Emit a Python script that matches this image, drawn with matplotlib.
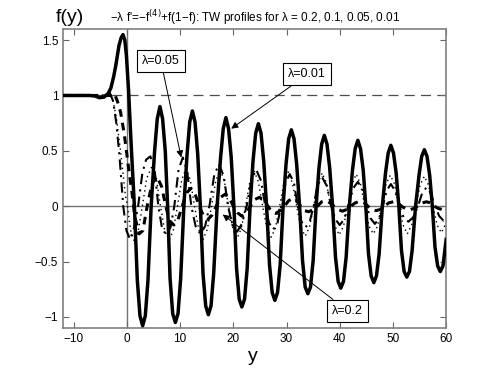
import numpy as np
import matplotlib.pyplot as plt

plt.rcParams['font.family'] = ['Liberation Sans', 'DejaVu Sans']

# travelling wave profiles, (y, f) pairs
# lambda = 0.01, solid
prof_001 = [(-12, 1), (-7, 1), (-6, 0.995), (-5.2, 0.98), (-4.3, 0.985), (-3.5, 1.02),
            (-3.0, 1.07), (-2.5, 1.17), (-2.1, 1.27), (-1.5, 1.45), (-1.1, 1.52),
            (-0.75, 1.55), (-0.4, 1.5), (-0.1, 1.36), (0.3, 1.05), (0.8, 0.55),
            (1.4, 0), (1.95, -0.67), (2.45, -0.99), (2.95, -1.08), (3.45, -0.99),
            (3.95, -0.67), (4.55, 0),
            (5.2, 0.5), (5.7, 0.79), (6.2, 0.9), (6.7, 0.79), (7.2, 0.5), (7.65, 0),
            (8.1, -0.65), (8.6, -0.97), (9.1, -1.05), (9.6, -0.97), (10.1, -0.65), (10.7, 0),
            (11.3, 0.47), (11.8, 0.76), (12.3, 0.86), (12.8, 0.76), (13.3, 0.47), (13.8, 0),
            (14.3, -0.61), (14.8, -0.9), (15.3, -0.98), (15.8, -0.9), (16.3, -0.61), (16.95, 0),
            (17.6, 0.44), (18.1, 0.7), (18.6, 0.8), (19.1, 0.7), (19.6, 0.44), (20.1, 0),
            (20.6, -0.56), (21.1, -0.84), (21.6, -0.91), (22.1, -0.84), (22.6, -0.56), (23.15, 0),
            (23.7, 0.41), (24.2, 0.66), (24.7, 0.745), (25.2, 0.66), (25.7, 0.41), (26.25, 0),
            (26.8, -0.53), (27.3, -0.78), (27.8, -0.85), (28.3, -0.78), (28.8, -0.53), (29.35, 0),
            (29.9, 0.38), (30.4, 0.61), (30.9, 0.69), (31.4, 0.61), (31.9, 0.38), (32.45, 0),
            (33.0, -0.49), (33.5, -0.73), (34.0, -0.79), (34.5, -0.73), (35.0, -0.49), (35.55, 0),
            (36.1, 0.35), (36.6, 0.56), (37.1, 0.64), (37.6, 0.56), (38.1, 0.35), (38.65, 0),
            (39.2, -0.46), (39.7, -0.68), (40.2, -0.74), (40.7, -0.68), (41.2, -0.46), (41.8, 0),
            (42.4, 0.33), (42.9, 0.52), (43.4, 0.595), (43.9, 0.52), (44.4, 0.33), (44.9, 0),
            (45.4, -0.43), (45.9, -0.63), (46.4, -0.69), (46.9, -0.63), (47.4, -0.43), (48.0, 0),
            (48.6, 0.3), (49.1, 0.48), (49.6, 0.55), (50.1, 0.48), (50.6, 0.3), (51.1, 0),
            (51.6, -0.4), (52.1, -0.59), (52.6, -0.64), (53.1, -0.59), (53.6, -0.4), (54.25, 0),
            (54.9, 0.28), (55.4, 0.45), (55.9, 0.51), (56.4, 0.45), (56.9, 0.28), (57.4, 0),
            (57.9, -0.37), (58.4, -0.54), (58.9, -0.59), (59.4, -0.54), (60, -0.3)]

# lambda = 0.05, dash-dot
prof_005 = [(-12, 1), (-5, 1), (-4, 1.0), (-3.2, 1.02), (-2.6, 0.95), (-2.0, 0.75),
            (-1.4, 0.45), (-0.7, 0), (-0.1, -0.22), (0.6, -0.3), (1.3, -0.2), (2.1, 0),
            (2.9, 0.3), (3.6, 0.42), (4.4, 0.45), (5.2, 0.33), (5.9, 0), (6.6, -0.2),
            (7.4, -0.26), (8.2, -0.19), (8.9, 0), (9.7, 0.33), (10.5, 0.44), (11.3, 0.32),
            (12.1, 0), (12.9, -0.18), (13.8, -0.25), (14.7, -0.18), (15.5, 0), (16.4, 0.28),
            (17.3, 0.38), (18.2, 0.27), (19.0, 0), (19.8, -0.17), (20.7, -0.23), (21.6, -0.16),
            (22.5, 0), (23.4, 0.24), (24.3, 0.33), (25.2, 0.23), (26.0, 0), (26.7, -0.15),
            (27.5, -0.21), (28.3, -0.15), (29.0, 0), (29.8, 0.21), (30.6, 0.29), (31.4, 0.21),
            (32.1, 0), (32.8, -0.14), (33.6, -0.19), (34.4, -0.13), (35.1, 0), (35.8, 0.19),
            (36.7, 0.26), (37.6, 0.18), (38.4, 0), (39.2, -0.12), (40.0, -0.17), (40.8, -0.12),
            (41.6, 0), (42.5, 0.16), (43.4, 0.22), (44.3, 0.15), (45.0, 0), (45.8, -0.11),
            (46.6, -0.16), (47.4, -0.11), (48.1, 0), (48.8, 0.14), (49.6, 0.2), (50.4, 0.14),
            (51.2, 0), (52.0, -0.1), (52.9, -0.14), (53.8, -0.1), (54.7, 0), (55.5, 0.12),
            (56.3, 0.17), (57.1, 0.12), (57.9, 0), (58.7, -0.09), (59.5, -0.13), (60, -0.11)]

# lambda = 0.1, dotted
prof_01 = [(-12, 1), (-4, 1), (-3.3, 1.01), (-2.7, 0.97), (-2.0, 0.8), (-1.2, 0.5),
           (-0.3, 0.1), (0.1, 0), (0.7, -0.22), (1.4, -0.32), (2.1, -0.23), (2.9, 0),
           (3.7, 0.25), (4.6, 0.35), (5.5, 0.25), (6.3, 0), (7.1, -0.22), (7.9, -0.31),
           (8.7, -0.22), (9.5, 0), (10.3, 0.24), (11.1, 0.34), (11.9, 0.24), (12.7, 0),
           (13.5, -0.21), (14.3, -0.3), (15.1, -0.21), (15.9, 0), (16.7, 0.23), (17.5, 0.33),
           (18.3, 0.23), (19.1, 0), (19.9, -0.2), (20.7, -0.29), (21.5, -0.2), (22.3, 0),
           (23.1, 0.22), (23.9, 0.32), (24.7, 0.22), (25.5, 0), (26.3, -0.2), (27.1, -0.28),
           (27.9, -0.2), (28.7, 0), (29.5, 0.21), (30.3, 0.31), (31.1, 0.21), (31.9, 0),
           (32.7, -0.19), (33.5, -0.27), (34.3, -0.19), (35.1, 0), (35.9, 0.21), (36.7, 0.3),
           (37.5, 0.21), (38.3, 0), (39.1, -0.18), (39.9, -0.26), (40.7, -0.18), (41.5, 0),
           (42.3, 0.2), (43.1, 0.29), (43.9, 0.2), (44.7, 0), (45.5, -0.18), (46.3, -0.25),
           (47.1, -0.18), (47.9, 0), (48.7, 0.2), (49.5, 0.28), (50.3, 0.2), (51.1, 0),
           (51.9, -0.17), (52.7, -0.25), (53.5, -0.17), (54.3, 0), (55.1, 0.19), (55.9, 0.27),
           (56.7, 0.19), (57.5, 0), (58.3, -0.17), (59.1, -0.24), (60, -0.15)]

# lambda = 0.2, thick dashed
prof_02 = [(-12, 1), (-3, 1), (-2.4, 1.02), (-1.8, 0.95), (-1.2, 0.85), (-0.5, 0.65),
           (0.3, 0.35), (1.0, 0.1), (1.5, -0.1), (2.3, -0.25), (3.0, -0.22), (3.8, 0),
           (4.7, 0.2), (5.6, 0.27), (6.5, 0.18), (7.3, 0), (8.0, -0.13), (8.8, -0.17),
           (9.6, -0.12), (10.4, 0), (11.2, 0.12), (12.0, 0.16), (12.8, 0.11), (13.6, 0),
           (14.4, -0.09), (15.2, -0.12), (16.0, -0.08), (16.8, 0), (17.6, 0.08), (18.5, 0.11),
           (19.3, 0.07), (20.0, 0), (20.8, -0.06), (21.6, -0.09), (22.4, -0.06), (23.2, 0),
           (24.0, 0.06), (24.9, 0.08), (25.8, 0.05), (26.5, 0), (27.2, -0.05), (28.0, -0.065),
           (28.8, -0.04), (29.6, 0), (30.4, 0.05), (31.2, 0.07), (32.0, 0.04), (32.7, 0),
           (33.4, -0.04), (34.2, -0.05), (35.0, -0.03), (35.8, 0), (36.6, 0.04), (37.4, 0.05),
           (38.2, 0.03), (38.9, 0), (39.7, -0.03), (40.5, -0.045), (41.3, -0.03), (42.1, 0),
           (42.9, 0.03), (43.8, 0.045), (44.6, 0.03), (45.3, 0), (46.0, -0.03), (46.8, -0.04),
           (47.6, -0.03), (48.4, 0), (49.2, 0.03), (50.1, 0.04), (50.9, 0.03), (51.6, 0),
           (52.3, -0.02), (53.1, -0.035), (53.9, -0.02), (54.7, 0), (55.5, 0.03), (56.3, 0.04),
           (57.1, 0.03), (57.8, 0), (58.5, -0.02), (59.3, -0.03), (60, -0.02)]

xticks = [-10, 0, 10, 20, 30, 40, 50, 60]
xtick_labels = ['\u221210', '0', '10', '20', '30', '40', '50', '60']
yticks = [-1, -0.5, 0, 0.5, 1, 1.5]
ytick_labels = ['\u22121', '\u22120.5', '0', '0.5', '1', '1.5']

fig = plt.figure(figsize=(4.93, 3.70), dpi=100)
ax = fig.add_axes([0.128, 0.1135, 0.777, 0.808])

# reference lines
ax.axhline(1, color='0.3', lw=0.9, ls=(0, (8, 5)), zorder=1)
ax.axhline(0, color='0.45', lw=1.0, zorder=1)
ax.axvline(0, color='0.45', lw=1.0, zorder=1)

p = np.array(prof_02)
ax.plot(p[:, 0], p[:, 1], color='black', lw=2.2, ls=(0, (2.5, 2)), zorder=3)
p = np.array(prof_01)
ax.plot(p[:, 0], p[:, 1], color='black', lw=1.0, ls=(0, (1, 2.5)), zorder=3)
p = np.array(prof_005)
ax.plot(p[:, 0], p[:, 1], color='black', lw=1.5, ls=(0, (5, 2.5, 1, 2.5)), zorder=3)
p = np.array(prof_001)
ax.plot(p[:, 0], p[:, 1], color='black', lw=2.5, zorder=4)

ax.set_xlim(-12, 60)
ax.set_ylim(-1.1, 1.6)
ax.set_xticks(xticks)
ax.set_xticklabels(xtick_labels)
ax.set_yticks(yticks)
ax.set_yticklabels(ytick_labels)
ax.tick_params(direction='in', top=True, right=True, length=4, width=0.8,
               color='0.4', labelsize=8.5)
for s in ax.spines.values():
    s.set_color('0.5')
    s.set_linewidth(1.2)

ax.set_title("\u2212\u03bb f'=\u2212f$^{(4)}$+f(1\u2212f): TW profiles for \u03bb = 0.2, 0.1, 0.05, 0.01",
             fontsize=8.5, pad=5)
fig.text(0.142, 0.953, 'f(y)', fontsize=14, ha='center', va='center')
fig.text(0.512, 0.037, 'y', fontsize=14, ha='center', va='center')

# labels with arrows
box = dict(boxstyle='square,pad=0.4', fc='white', ec='black', lw=0.8)
arr = dict(arrowstyle='-|>', color='black', lw=0.7, mutation_scale=10, shrinkA=0, shrinkB=0)
ax.annotate('\u03bb=0.05', xy=(10.2, 0.44), xytext=(6.4, 1.307), fontsize=9,
            ha='center', va='center', bbox=box, arrowprops=arr, zorder=6)
ax.annotate('\u03bb=0.01', xy=(19.6, 0.70), xytext=(33.9, 1.19), fontsize=9,
            ha='center', va='center', bbox=box, arrowprops=arr, zorder=6)
ax.annotate('\u03bb=0.2', xy=(18.0, -0.075), xytext=(41.5, -0.945), fontsize=9,
            ha='center', va='center', bbox=box, arrowprops=arr, zorder=6)

fig.savefig('out.png', dpi=100)
